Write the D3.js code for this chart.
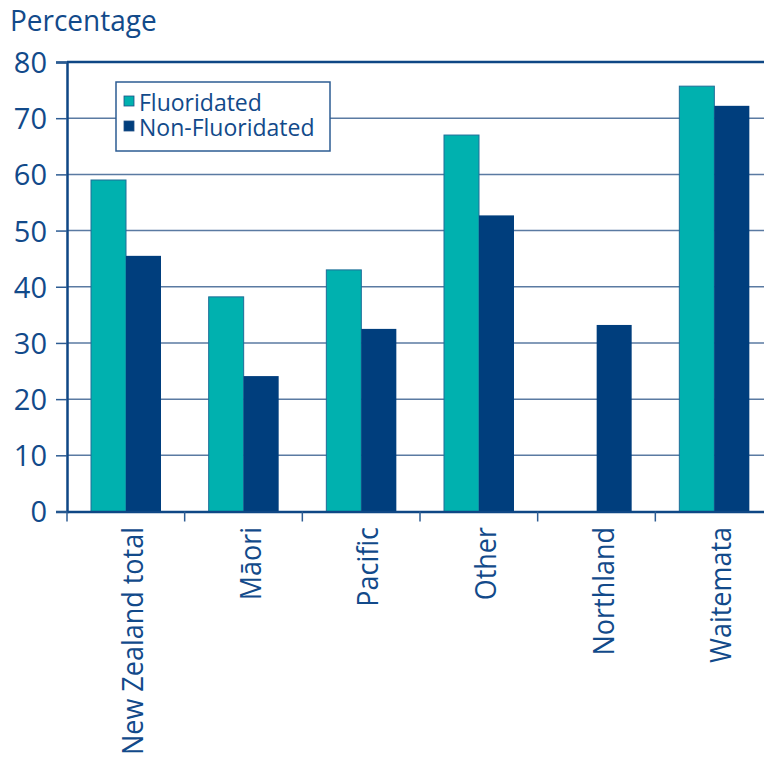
<!DOCTYPE html>
<html>
<head>
<meta charset="utf-8">
<script src="https://cdn.jsdelivr.net/npm/d3@7"></script>
<style>
  body { margin: 0; background: #fff; }
  text { font-family: "Open Sans", "Noto Sans", sans-serif; fill: #124a8a; }
</style>
</head>
<body>
<svg id="chart" width="764" height="766"></svg>
<script>
var categories = ["New Zealand total", "Māori", "Pacific", "Other", "Northland", "Waitemata"];
var series = ["Fluoridated", "Non-Fluoridated"];
var fluoridated = [59.0, 38.2, 43.0, 67.0, null, 75.7];
var nonFluoridated = [45.5, 24.1, 32.5, 52.7, 33.2, 72.2];
var yTicks = [0, 10, 20, 30, 40, 50, 60, 70, 80];

var colors = { "Fluoridated": "#00b1af", "Non-Fluoridated": "#003e7d" };
var margin = { top: 62, left: 67, bottom: 511.5, right: 773 };

var svg = d3.select("#chart");

var x = d3.scaleBand().domain(categories).range([margin.left, margin.right]);
var xSub = d3.scaleBand().domain(series).range([24, 94]);
var y = d3.scaleLinear().domain([0, 80]).range([margin.bottom, margin.top]);

// gridlines
svg.append("g")
  .selectAll("line")
  .data(yTicks.filter(function(d) { return d > 0 && d < 80; }))
  .join("line")
  .attr("x1", margin.left).attr("x2", 764)
  .attr("y1", function(d) { return y(d); })
  .attr("y2", function(d) { return y(d); })
  .attr("stroke", "#5a7aa2")
  .attr("stroke-width", 1.5);

// top border
svg.append("line")
  .attr("x1", margin.left).attr("x2", 764)
  .attr("y1", y(80)).attr("y2", y(80))
  .attr("stroke", "#0f4785").attr("stroke-width", 2.5);

// bars
var rows = categories.map(function(c, i) {
  return { cat: c, values: [
    { key: "Fluoridated", value: fluoridated[i] },
    { key: "Non-Fluoridated", value: nonFluoridated[i] }
  ] };
});

svg.append("g")
  .selectAll("g")
  .data(rows)
  .join("g")
  .attr("transform", function(d) { return "translate(" + x(d.cat) + ",0)"; })
  .selectAll("rect")
  .data(function(d) { return d.values.filter(function(v) { return v.value != null; }); })
  .join("rect")
  .attr("x", function(d) { return xSub(d.key); })
  .attr("width", xSub.bandwidth())
  .attr("y", function(d) { return y(d.value); })
  .attr("height", function(d) { return y(0) - y(d.value); })
  .attr("fill", function(d) { return colors[d.key]; })
  .attr("stroke", function(d) { return d.key === "Fluoridated" ? "#1f6e98" : "none"; })
  .attr("stroke-width", 1);

// y axis
var yAxis = svg.append("g")
  .attr("transform", "translate(" + margin.left + ",0)")
  .call(d3.axisLeft(y).tickValues(yTicks).tickSize(11).tickPadding(9));
yAxis.select(".domain").attr("stroke", "#0f4785").attr("stroke-width", 2.5);
yAxis.selectAll(".tick line").attr("stroke", "#2d5c93").attr("stroke-width", 1.5);
yAxis.selectAll(".tick text")
  .style("font-size", "29px")
  .attr("fill", "#124a8a")
  .attr("dy", "0.36em");

// x axis
var xAxis = svg.append("g")
  .attr("transform", "translate(0," + margin.bottom + ")")
  .call(d3.axisBottom(x).tickSize(0).tickFormat(""));
xAxis.select(".domain").attr("stroke", "#0f4785").attr("stroke-width", 2.5);

svg.append("g")
  .selectAll("line")
  .data(categories)
  .join("line")
  .attr("x1", function(d) { return x(d); })
  .attr("x2", function(d) { return x(d); })
  .attr("y1", margin.bottom).attr("y2", margin.bottom + 10)
  .attr("stroke", "#2d5c93").attr("stroke-width", 1.5);

// category labels, slightly condensed like the original typeface
svg.append("g")
  .selectAll("text")
  .data(categories)
  .join("text")
  .attr("transform", function(d) {
    return "translate(" + (x(d) + x.bandwidth() / 2 + 17) + ",527) rotate(-90) scale(0.93,1)";
  })
  .attr("text-anchor", "end")
  .style("font-size", "29px")
  .text(function(d) { return d; });

// y title
svg.append("text")
  .attr("transform", "translate(10,31) scale(0.965,1)")
  .style("font-size", "29px")
  .text("Percentage");

// legend
var legend = svg.append("g");
legend.append("rect")
  .attr("x", 116).attr("y", 82).attr("width", 214).attr("height", 69)
  .attr("fill", "#fff").attr("stroke", "#2d5c93").attr("stroke-width", 1.5);
var items = legend.selectAll("g.item")
  .data(series)
  .join("g")
  .attr("class", "item")
  .attr("transform", function(d, i) { return "translate(124," + (96 + i * 25) + ")"; });
items.append("rect")
  .attr("width", 10).attr("height", 10)
  .attr("fill", function(d) { return colors[d]; })
  .attr("stroke", "#1f4f86").attr("stroke-width", 0.8);
items.append("text")
  .attr("x", 15).attr("y", 15)
  .style("font-size", "23px")
  .text(function(d) { return d; });
</script>
</body>
</html>
